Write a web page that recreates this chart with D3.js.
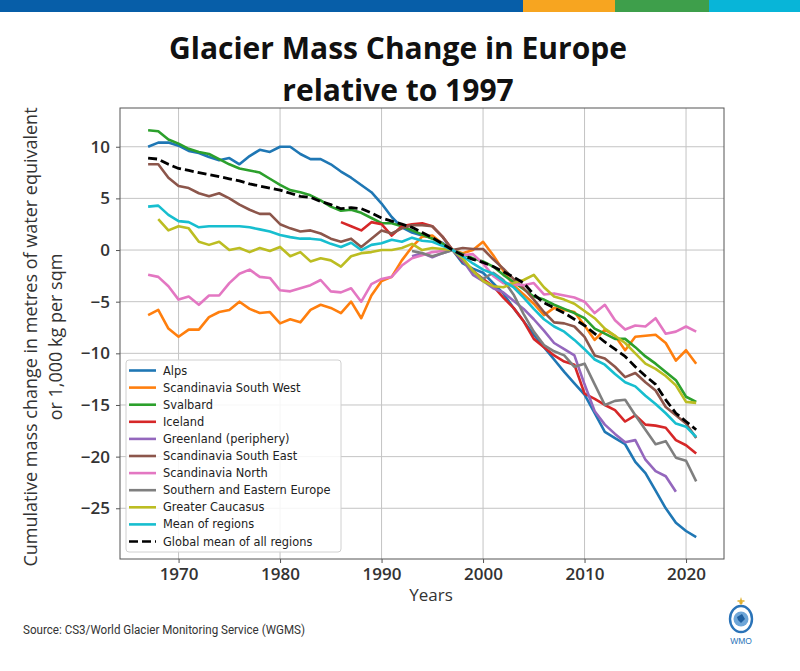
<!DOCTYPE html>
<html>
<head>
<meta charset="utf-8">
<script src="https://cdn.jsdelivr.net/npm/d3@7"></script>
<style>
  body { margin: 0; background: #fff; }
  svg { display: block; }
</style>
</head>
<body>
<svg id="chart" width="800" height="671"></svg>
<script>
// ---------- DATA ----------
const seriesNames = ["Alps", "Scandinavia South West", "Svalbard", "Iceland", "Greenland (periphery)",
  "Scandinavia South East", "Scandinavia North", "Southern and Eastern Europe", "Greater Caucasus",
  "Mean of regions", "Global mean of all regions"];
const seriesColors = ["#1f77b4", "#ff7f0e", "#2ca02c", "#d62728", "#9467bd",
  "#8c564b", "#e377c2", "#7f7f7f", "#bcbd22", "#17becf", "#000000"];
const startYears = [1967, 1967, 1967, 1986, 1993, 1967, 1967, 1993, 1968, 1967, 1967];

const alps = [10.0, 10.4, 10.4, 10.1, 9.6, 9.4, 9.0, 8.7, 8.9, 8.3, 9.1, 9.7, 9.5, 10.0, 10.0, 9.3, 8.8, 8.8, 8.3, 7.6,
  7.0, 6.3, 5.6, 4.5, 3.2, 2.2, 1.7, 1.4, 1.2, 0.7, 0.0, -1.3, -1.8, -2.2, -3.2, -4.2, -5.6, -6.9, -8.2, -9.4,
  -10.6, -11.8, -12.9, -14.0, -15.8, -17.6, -18.2, -18.8, -20.5, -21.6, -23.3, -25.0, -26.4, -27.2, -27.8];
const scandSW = [-6.3, -5.8, -7.6, -8.4, -7.7, -7.7, -6.5, -6.0, -5.8, -5.0, -5.7, -6.1, -6.0, -7.1, -6.7, -7.0, -5.8, -5.3, -5.6, -6.1,
  -5.0, -6.6, -4.4, -3.0, -2.6, -1.0, 0.3, 1.3, 1.4, 0.6, 0.0, -0.3, 0.0, 0.8, -0.5, -2.0, -3.4, -4.3, -5.2, -6.3,
  -5.6, -5.8, -6.0, -7.3, -8.7, -7.7, -8.3, -9.7, -8.4, -8.3, -8.2, -9.0, -10.7, -9.7, -11.0];
const svalbard = [11.6, 11.5, 10.7, 10.3, 9.8, 9.5, 9.3, 8.8, 8.3, 7.9, 7.7, 7.5, 6.9, 6.3, 5.8, 5.6, 5.3, 4.8, 4.2, 3.8,
  3.9, 3.6, 3.1, 2.6, 2.6, 2.3, 1.9, 1.5, 1.1, 0.6, 0.0, -0.4, -0.8, -1.1, -1.6, -2.4, -3.1, -3.8, -4.5, -4.8,
  -5.3, -5.7, -6.1, -6.6, -7.6, -8.1, -8.6, -8.6, -9.4, -10.3, -11.0, -11.8, -12.6, -14.2, -14.7];
const iceland = [2.7, 2.3, 1.9, 2.7, 2.5, 1.4, 2.3, 2.5, 2.6, 2.3, 1.3, 0.0, -1.1, -2.0, -2.8, -3.5, -4.6, -5.6, -6.9, -8.6,
  -9.4, -10.2, -10.8, -11.1, -13.9, -14.4, -15.0, -15.5, -16.6, -16.0, -16.9, -17.0, -17.2, -18.4, -18.9, -19.7];
const greenland = [-0.6, -0.3, -0.7, -0.3, 0.0, -1.0, -2.4, -3.0, -3.7, -4.1, -4.9, -5.7, -6.7, -7.8, -9.0, -9.6, -10.2,
  -13.0, -15.6, -16.9, -17.8, -18.6, -18.4, -20.3, -21.4, -21.9, -23.4];
const scandSE = [8.3, 8.3, 7.0, 6.2, 6.0, 5.5, 5.2, 5.5, 5.0, 4.4, 3.9, 3.5, 3.5, 2.5, 2.1, 1.8, 1.9, 1.6, 1.1, 0.8,
  1.1, 0.3, 1.1, 1.9, 1.6, 2.1, 2.4, 2.4, 2.3, 1.3, 0.0, 0.2, 0.1, 0.1, -0.9, -1.8, -2.8, -3.7, -4.8, -6.0,
  -7.0, -7.1, -7.4, -8.4, -10.2, -10.5, -11.3, -12.3, -11.9, -12.8, -13.6, -15.2, -16.0, -16.8, -18.2];
const scandN = [-2.4, -2.6, -3.5, -4.8, -4.5, -5.3, -4.4, -4.4, -3.2, -2.3, -1.9, -2.6, -2.7, -3.9, -4.0, -3.7, -3.4, -2.9, -4.0, -4.1,
  -3.7, -5.0, -3.3, -2.8, -2.6, -1.5, -0.8, -0.5, -0.2, -0.1, 0.0, -0.5, -0.4, -1.3, -2.5, -3.2, -3.3, -3.4, -3.2, -4.3,
  -4.2, -4.4, -4.6, -5.0, -6.1, -5.3, -6.8, -7.7, -7.3, -7.4, -6.6, -8.1, -7.9, -7.4, -7.9];
const southEastEurope = [-0.1, -0.3, -0.6, -0.3, 0.0, -0.9, -2.1, -2.8, -2.2, -2.9, -4.3, -6.2, -7.9, -9.2, -9.8, -10.2, -11.3,
  -11.0, -13.0, -15.0, -14.6, -14.5, -16.0, -17.4, -18.8, -18.5, -20.1, -20.4, -22.4];
const caucasus = [3.0, 1.9, 2.3, 2.1, 0.8, 0.5, 0.8, 0.0, 0.2, -0.2, 0.2, -0.1, 0.3, -0.6, -0.2, -1.1, -0.8, -1.0, -1.6,
  -0.6, -0.3, -0.2, 0.0, 0.0, 0.2, 0.6, 0.0, 0.2, 0.1, 0.0, -0.8, -2.0, -3.0, -3.5, -3.6, -3.2, -2.9, -2.4, -3.6,
  -4.5, -4.8, -5.2, -5.9, -6.6, -7.6, -8.3, -9.0, -10.0, -11.0, -11.5, -12.2, -13.1, -14.7, -14.8];
const meanRegions = [4.2, 4.3, 3.4, 2.8, 2.7, 2.2, 2.3, 2.3, 2.3, 2.3, 2.2, 2.0, 1.8, 1.45, 1.25, 1.1, 1.1, 1.0, 0.6, 0.3,
  0.7, 0.0, 0.5, 0.65, 1.0, 0.8, 1.2, 0.9, 0.8, 0.4, 0.0, -0.6, -1.3, -1.9, -2.3, -3.0, -3.6, -4.6, -5.7, -6.7,
  -7.4, -7.9, -8.7, -9.6, -10.6, -11.1, -12.0, -12.8, -13.2, -14.1, -14.9, -15.8, -16.8, -17.1, -18.1];
const globalMean = [8.9, 8.8, 8.3, 7.9, 7.7, 7.5, 7.3, 7.1, 6.9, 6.7, 6.4, 6.2, 6.0, 5.8, 5.5, 5.2, 5.1, 4.7, 4.4, 4.0,
  4.1, 4.0, 3.6, 3.1, 2.8, 2.5, 2.2, 1.7, 1.2, 0.6, 0.0, -0.5, -0.9, -1.2, -1.6, -2.1, -2.6, -3.2, -4.3, -5.1,
  -5.6, -6.1, -6.7, -7.3, -8.1, -8.9, -9.6, -10.3, -11.3, -12.2, -13.0, -14.5, -15.8, -16.6, -17.4];

const seriesValues = [alps, scandSW, svalbard, iceland, greenland, scandSE, scandN, southEastEurope, caucasus, meanRegions, globalMean];

const xTicks = [1970, 1980, 1990, 2000, 2010, 2020];
const yTicks = [-25, -20, -15, -10, -5, 0, 5, 10];

const titleLines = ["Glacier Mass Change in Europe", "relative to 1997"];
const yLabelLines = ["Cumulative mass change in metres of water equivalent", "or 1,000 kg per sqm"];
const xLabel = "Years";
const sourceText = "Source: CS3/World Glacier Monitoring Service (WGMS)";
const topBarColors = ["#075ea8", "#f7a520", "#3e9f4b", "#08b5d8"];
const topBarBreaks = [0, 523, 615, 709, 800];

// ---------- DRAW ----------
const svg = d3.select("#chart");
const L = 120, R = 724, T = 108, B = 559;

// top colour bar
svg.selectAll("rect.topbar").data(topBarColors).enter().append("rect")
  .attr("x", (d, i) => topBarBreaks[i]).attr("y", 0)
  .attr("width", (d, i) => topBarBreaks[i + 1] - topBarBreaks[i]).attr("height", 12)
  .attr("fill", d => d);

// title
svg.selectAll("text.title").data(titleLines).enter().append("text")
  .attr("x", 398).attr("y", (d, i) => 59 + i * 42)
  .attr("text-anchor", "middle")
  .style("font-family", "'Open Sans', sans-serif").style("font-weight", 700)
  .style("font-size", "30px").attr("fill", "#111")
  .text(d => d);

const x = d3.scaleLinear().domain([1964.23, 2023.74]).range([L, R]);
const y = d3.scaleLinear().domain([-29.91, 13.75]).range([B, T]);

// grid
const g = svg.append("g");
g.selectAll("line.vg").data(xTicks).enter().append("line")
  .attr("x1", d => x(d)).attr("x2", d => x(d)).attr("y1", T).attr("y2", B)
  .attr("stroke", "#c4c4c4").attr("stroke-width", 1);
g.selectAll("line.hg").data(yTicks).enter().append("line")
  .attr("x1", L).attr("x2", R).attr("y1", d => y(d)).attr("y2", d => y(d))
  .attr("stroke", "#c4c4c4").attr("stroke-width", 1);

// lines
const line = d3.line().x(d => x(d[0])).y(d => y(d[1]));
seriesValues.forEach((vals, i) => {
  const pts = vals.map((v, k) => [startYears[i] + k, v]);
  const p = g.append("path").datum(pts)
    .attr("d", line).attr("fill", "none")
    .attr("stroke", seriesColors[i]).attr("stroke-width", 2.6)
    .attr("stroke-linejoin", "round").attr("stroke-linecap", "butt");
  if (i === seriesValues.length - 1) p.attr("stroke-dasharray", "9,4").attr("stroke-width", 2.8);
});

// frame
svg.append("rect").attr("x", L).attr("y", T).attr("width", R - L).attr("height", B - T)
  .attr("fill", "none").attr("stroke", "#555").attr("stroke-width", 1);

// axes
const tickFont = sel => sel.style("font-family", "'Open Sans', sans-serif").style("font-weight", 600)
  .style("font-size", "17px").attr("fill", "#333");
const yAxis = svg.append("g").attr("transform", `translate(${L},0)`)
  .call(d3.axisLeft(y).tickValues(yTicks).tickSize(4).tickPadding(6));
const xAxis = svg.append("g").attr("transform", `translate(0,${B})`)
  .call(d3.axisBottom(x).tickValues(xTicks).tickFormat(d3.format("d")).tickSize(4).tickPadding(5));
[yAxis, xAxis].forEach(a => {
  a.select(".domain").remove();
  a.selectAll(".tick line").attr("stroke", "#555");
  a.selectAll(".tick text").call(tickFont);
});

// axis labels
svg.append("text").attr("x", 431).attr("y", 601).attr("text-anchor", "middle")
  .style("font-family", "'Open Sans', sans-serif").style("font-size", "17px").attr("fill", "#333")
  .text(xLabel);
svg.selectAll("text.ylab").data(yLabelLines).enter().append("text")
  .attr("transform", (d, i) => `translate(${37 + i * 25},337) rotate(-90)`)
  .attr("text-anchor", "middle")
  .style("font-family", "'Open Sans', sans-serif").style("font-size", "18px").attr("fill", "#333")
  .text(d => d);

// legend
const lg = svg.append("g");
lg.append("rect").attr("x", 126).attr("y", 360).attr("width", 215).attr("height", 192)
  .attr("rx", 3).attr("fill", "#fff").attr("fill-opacity", 0.85)
  .attr("stroke", "#d0d0d0").attr("stroke-width", 1);
seriesNames.forEach((name, i) => {
  const yy = 370.5 + i * 17.1;
  const ln = lg.append("line").attr("x1", 129).attr("x2", 156).attr("y1", yy).attr("y2", yy)
    .attr("stroke", seriesColors[i]).attr("stroke-width", 2.6);
  if (i === seriesNames.length - 1) ln.attr("stroke-dasharray", "9,4");
  lg.append("text").attr("x", 163).attr("y", yy + 4)
    .style("font-family", "'DejaVu Sans', sans-serif").style("font-size", "11.4px").attr("fill", "#222")
    .text(name);
});

// source
svg.append("text").attr("x", 23).attr("y", 634)
  .attr("textLength", 282).attr("lengthAdjust", "spacingAndGlyphs")
  .style("font-family", "'Roboto', sans-serif").style("font-size", "12px").attr("fill", "#333")
  .text(sourceText);

// WMO emblem
const wmo = svg.append("g").attr("transform", "translate(741,619)");
wmo.append("ellipse").attr("rx", 11).attr("ry", 13).attr("fill", "none").attr("stroke", "#2a73b8").attr("stroke-width", 2.4);
wmo.append("circle").attr("r", 7.5).attr("fill", "#6ea6d8");
wmo.append("path").attr("d", "M-4,-2 L1,-5 L4,0 L0,4 L-3,1 Z").attr("fill", "#1f5fa0");
wmo.append("path").attr("d", "M0,-22 L1.8,-16 L0,-14 L-1.8,-16 Z").attr("fill", "#e0b030");
wmo.append("line").attr("x1", -3.5).attr("x2", 3.5).attr("y1", -18).attr("y2", -18).attr("stroke", "#e0b030").attr("stroke-width", 1.5);
wmo.append("text").attr("x", 0).attr("y", 25).attr("text-anchor", "middle")
  .style("font-family", "'Liberation Sans', sans-serif").style("font-size", "8.5px").attr("fill", "#2a73b8")
  .text("WMO");
</script>
</body>
</html>
